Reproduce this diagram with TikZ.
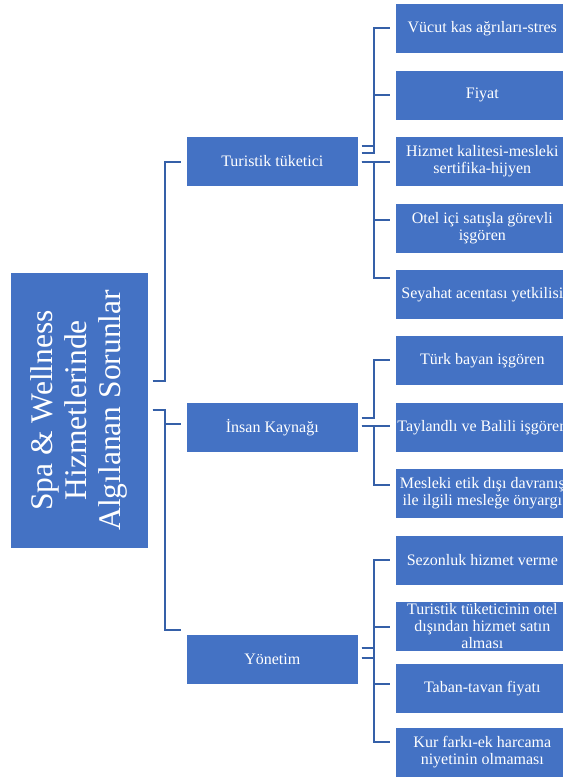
\documentclass[tikz,border=0pt]{standalone}
\usepackage{fontspec}
\setmainfont{Liberation Serif}
\usetikzlibrary{calc}
\definecolor{boxblue}{HTML}{4472C4}
\definecolor{linkblue}{HTML}{3560A8}
\tikzset{
  box/.style={fill=boxblue, draw=white, line width=0.6bp, text=white,
    align=center, inner sep=0pt, anchor=north west,
    font=\fontsize{16bp}{17bp}\selectfont},
  lvltwo/.style={box, minimum width=172bp, minimum height=50bp},
  lvlthree/.style={box, minimum width=174bp, minimum height=50bp},
  conn/.style={draw=linkblue, line width=2bp}
}
\begin{document}
\begin{tikzpicture}[x=1bp, y=-1bp]
\useasboundingbox (0,0) rectangle (563,778);
\clip (0,0) rectangle (563,778);

% root
\node[box, minimum width=138bp, minimum height=276bp,
      font=\fontsize{31.5bp}{34bp}\selectfont] (root) at (10,272) {};
\node[text=white, align=center, rotate=90, inner sep=0pt,
      font=\fontsize{31.5bp}{34bp}\selectfont] (roottext) at (root.center)
  {Spa \& Wellness\\Hizmetlerinde\\Algılanan Sorunlar};

% second level
\node[lvltwo] (tur) at (186,136) {Turistik tüketici};
\node[lvltwo] (ins) at (186,402) {İnsan Kaynağı};
\node[lvltwo] (yon) at (186,634) {Yönetim};

% third level
\node[lvlthree] (vuc) at (395,3)   {Vücut kas ağrıları-stres};
\node[lvlthree] (fiy) at (395,70)  {Fiyat};
\node[lvlthree] (hiz) at (395,136) {Hizmet kalitesi-mesleki\\sertifika-hijyen};
\node[lvlthree] (ote) at (395,203) {Otel içi satışla görevli\\işgören};
\node[lvlthree] (sey) at (395,269) {Seyahat acentası yetkilisi};

\node[lvlthree] (tbi) at (395,335) {Türk bayan işgören};
\node[lvlthree] (tay) at (395,402) {Taylandlı ve Balili işgören};
\node[lvlthree] (mes) at (395,468) {Mesleki etik dışı davranış\\ile ilgili mesleğe önyargı};

\node[lvlthree] (sez) at (395,535) {Sezonluk hizmet verme};
\node[lvlthree] (tti) at (395,601) {Turistik tüketicinin otel\\dışından hizmet satın\\alması};
\node[lvlthree] (tab) at (395,663) {Taban-tavan fiyatı};
\node[lvlthree] (kur) at (395,727) {Kur farkı-ek harcama\\niyetinin olmaması};

% root to second level
\draw[conn] ($(root.east)+(4,-29)$) -| ($(tur.west)+(-21,1)$) -- ($(tur.west)+(-5,1)$);
\draw[conn] ($(root.east)+(4,0)$) -| ($(ins.west)+(-21,-3)$) -- ($(ins.west)+(-5,-3)$);
\draw[conn] ($(root.east)+(4,0)$) -| ($(yon.west)+(-21,-29)$) -- ($(yon.west)+(-5,-29)$);

% Turistik tüketici branches
\draw[conn] ($(tur.east)+(3,-15)$) -| ($(vuc.west)+(-21,0)$) -- ($(vuc.west)+(-5,0)$);
\draw[conn] ($(tur.east)+(3,-8)$) -| ($(fiy.west)+(-21,0)$) -- ($(fiy.west)+(-5,0)$);
\draw[conn] ($(tur.east)+(3,1)$) -- ($(hiz.west)+(-5,1)$);
\draw[conn] ($(tur.east)+(3,1)$) -| ($(ote.west)+(-21,-8)$) -- ($(ote.west)+(-5,-8)$);
\draw[conn] ($(tur.east)+(3,1)$) -| ($(sey.west)+(-21,-16)$) -- ($(sey.west)+(-5,-16)$);

% İnsan Kaynağı branches
\draw[conn] ($(ins.east)+(3,-9)$) -| ($(tbi.west)+(-21,0)$) -- ($(tbi.west)+(-5,0)$);
\draw[conn] ($(ins.east)+(3,-1)$) -- ($(tay.west)+(-5,-1)$);
\draw[conn] ($(ins.east)+(3,-1)$) -| ($(mes.west)+(-21,-8)$) -- ($(mes.west)+(-5,-8)$);

% Yönetim branches
\draw[conn] ($(yon.east)+(3,-11)$) -| ($(sez.west)+(-21,0)$) -- ($(sez.west)+(-5,0)$);
\draw[conn] ($(yon.east)+(3,-1)$) -| ($(tti.west)+(-21,1)$) -- ($(tti.west)+(-5,1)$);
\draw[conn] ($(yon.east)+(3,-11)$) -| ($(tab.west)+(-21,-4)$) -- ($(tab.west)+(-5,-4)$);
\draw[conn] ($(yon.east)+(3,-1)$) -| ($(kur.west)+(-21,-10)$) -- ($(kur.west)+(-5,-10)$);
\end{tikzpicture}
\end{document}
